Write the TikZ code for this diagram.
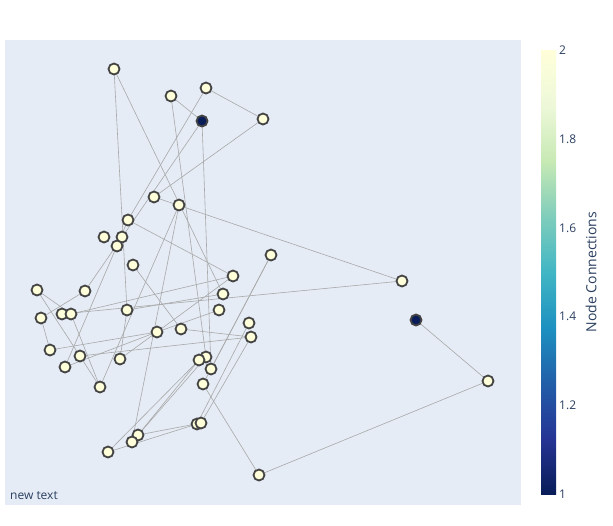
\documentclass[tikz,border=0pt]{standalone}
\usepackage{fontspec}
\setmainfont{Open Sans}
\definecolor{plotbg}{HTML}{E5ECF6}
\definecolor{edgec}{HTML}{A8A8A8}
\definecolor{nodeline}{HTML}{444444}
\definecolor{hi}{RGB}{255,255,217}
\definecolor{lo}{RGB}{8,29,88}
\definecolor{txt}{HTML}{2A3F5F}
\definecolor{c0}{RGB}{8,29,88}
\definecolor{c1}{RGB}{37,52,148}
\definecolor{c2}{RGB}{34,94,168}
\definecolor{c3}{RGB}{29,145,192}
\definecolor{c4}{RGB}{65,182,196}
\definecolor{c5}{RGB}{127,205,187}
\definecolor{c6}{RGB}{199,233,180}
\definecolor{c7}{RGB}{237,248,217}
\definecolor{c8}{RGB}{255,255,217}
\pgfdeclareverticalshading{ylgnbu}{100bp}{color(0bp)=(c0); color(25bp)=(c0); color(31.25bp)=(c1); color(37.5bp)=(c2); color(43.75bp)=(c3); color(50bp)=(c4); color(56.25bp)=(c5); color(62.5bp)=(c6); color(68.75bp)=(c7); color(75bp)=(c8); color(100bp)=(c8)}
\pgfdeclarelayer{back}
\pgfdeclarelayer{bg}
\pgfsetlayers{back,bg,main}
\tikzset{
  nd/.style={circle, draw=nodeline, line width=1.8pt, fill=hi, minimum size=11pt, inner sep=0pt},
  ndlo/.style={nd, fill=lo},
  edge/.style={draw=edgec, line width=0.6pt},
  tick/.style={font=\fontsize{12}{14}\selectfont, text=txt, anchor=west, inner sep=0pt}
}
\begin{document}
\begin{tikzpicture}[x=1pt,y=-1pt]
\useasboundingbox (0,0) rectangle (613,525);
\begin{pgfonlayer}{back}
\fill[plotbg] (5,40) rectangle (521,505);
\end{pgfonlayer}
% nodes
\node[nd] (A) at (114,69) {};
\node[nd] (B) at (171,96) {};
\node[nd] (C) at (206,88) {};
\node[ndlo] (D) at (202,121) {};
\node[nd] (E) at (263,119) {};
\node[nd] (F) at (154,197) {};
\node[nd] (G) at (179,205) {};
\node[nd] (H) at (128,220) {};
\node[nd] (I) at (104,237) {};
\node[nd] (J) at (122,237) {};
\node[nd] (K) at (117,246) {};
\node[nd] (L) at (133,265) {};
\node[nd] (M) at (271,255) {};
\node[nd] (N) at (402,281) {};
\node[ndlo] (O) at (416,320) {};
\node[nd] (P) at (488,381) {};
\node[nd] (Q) at (233,276) {};
\node[nd] (R) at (223,294) {};
\node[nd] (S) at (37,290) {};
\node[nd] (T) at (85,291) {};
\node[nd] (U) at (219,310) {};
\node[nd] (V) at (41,318) {};
\node[nd] (W) at (62,314) {};
\node[nd] (X) at (71,314) {};
\node[nd] (Y) at (127,310) {};
\node[nd] (Z) at (249,323) {};
\node[nd] (AA) at (181,329) {};
\node[nd] (AB) at (157,332) {};
\node[nd] (AC) at (251,337) {};
\node[nd] (AD) at (50,350) {};
\node[nd] (AE) at (80,356) {};
\node[nd] (AF) at (120,359) {};
\node[nd] (AG) at (206,357) {};
\node[nd] (AH) at (199,360) {};
\node[nd] (AI) at (211,369) {};
\node[nd] (AJ) at (65,367) {};
\node[nd] (AK) at (100,387) {};
\node[nd] (AL) at (203,384) {};
\node[nd] (AM) at (138,435) {};
\node[nd] (AN) at (132,442) {};
\node[nd] (AO) at (197,424) {};
\node[nd] (AP) at (201,423) {};
\node[nd] (AQ) at (108,452) {};
\node[nd] (AR) at (259,475) {};
\begin{pgfonlayer}{bg}
\foreach \a/\b in {B/D, C/E, E/F, F/N, A/Y, A/R, C/H, D/T, D/AI, B/AG, G/AK, G/AN, N/W, H/Q, H/AJ, T/V, V/AD, AD/AB, S/AK, X/AK, M/AL, M/AI, AR/AL, P/AR, O/P, Z/AO, AC/AP, AN/AG, AM/AH, AQ/AO, AQ/AH, AM/AP, L/AA, AA/AC, Q/AB, U/AB, R/Y, S/X, X/Q, AE/AC, AJ/AB, AF/Y, AF/AB}
  \draw[edge] (\a.center) -- (\b.center);
\end{pgfonlayer}
% colorbar
\node[inner sep=0pt, minimum width=15pt, minimum height=444pt, shading=ylgnbu, anchor=north west] (cbar) at (541,50) {};
\node[tick] (t2) at (559,50) {2};
\node[tick] (t18) at (559,139) {1.8};
\node[tick] (t16) at (559,228) {1.6};
\node[tick] (t14) at (559,316) {1.4};
\node[tick] (t12) at (559,405) {1.2};
\node[tick] (t1) at (559,494) {1};
\node[font=\fontsize{14}{16}\selectfont, text=txt, rotate=90, inner sep=0pt] (ttl) at (591,272) {Node Connections};
\node[font=\fontsize{12}{14}\selectfont, text=txt, anchor=west, inner sep=0pt] (nt) at (10,496) {new text};
\end{tikzpicture}
\end{document}
